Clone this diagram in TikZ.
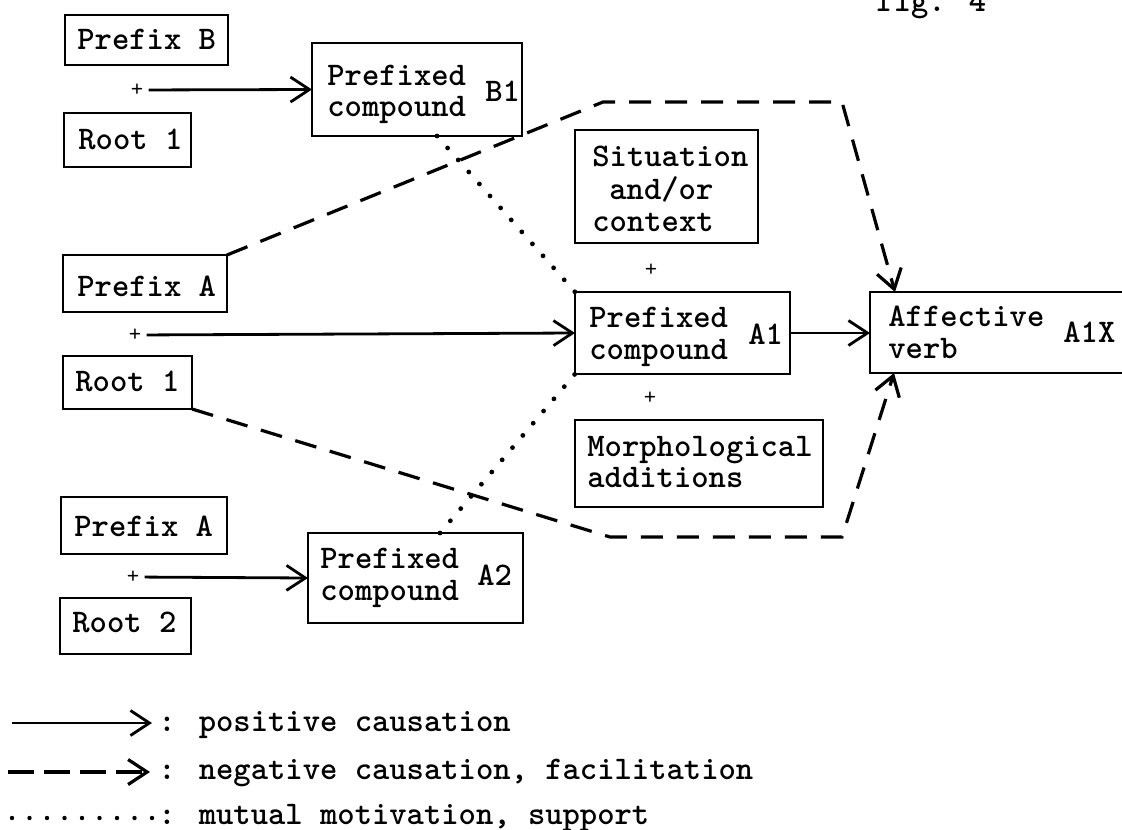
\documentclass[tikz,border=0pt]{standalone}
\usetikzlibrary{arrows.meta}
\begin{document}
\begin{tikzpicture}[x=0.5pt,y=-0.5pt,
  box/.style={draw, line width=1.4pt, inner sep=0pt, outer sep=0pt, anchor=north west},
  txt/.style={anchor=base west, inner sep=0pt, font=\fontsize{16.5}{20}\selectfont\ttfamily\bfseries},
  plus/.style={inner sep=2.5pt, font=\fontsize{12}{12}\selectfont\ttfamily},
  tipstyle/.style={-{Straight Barb[length=9.5pt,width=12.5pt]}},
  posarrow/.style={line width=1.4pt, tipstyle},
  negarrow/.style={line width=1.6pt, dash pattern=on 11pt off 7pt, tipstyle},
  negleg/.style={line width=1.6pt, dash pattern=on 13pt off 5pt, tipstyle},
  dotline/.style={line width=2.4pt, line cap=round, dash pattern=on 0pt off 8pt},
  dotleg/.style={line width=2.2pt, line cap=round, dash pattern=on 0pt off 8.75pt},
]
\useasboundingbox (0,0) rectangle (1122,829);
\clip (0,0) rectangle (1122,829);
\fill[white] (0,0) rectangle (1122,829);

% boxes
\node[box, minimum width=81.5pt, minimum height=25pt]  (PB)  at (65,15)  {};
\node[box, minimum width=63.5pt, minimum height=27pt]  (R1a) at (64,113) {};
\node[box, minimum width=105pt,  minimum height=46.5pt](B1)  at (312,43) {};
\node[box, minimum width=82pt,   minimum height=28.5pt](PA1) at (63,255) {};
\node[box, minimum width=64.5pt, minimum height=26.5pt](R1b) at (63,356) {};
\node[box, minimum width=91.5pt, minimum height=56.5pt](SC)  at (575,130) {};
\node[box, minimum width=107.5pt,minimum height=41pt]  (A1)  at (575,292) {};
\node[box, minimum width=140pt,  minimum height=40.5pt](AV)  at (870,292) {};
\node[box, minimum width=124pt,  minimum height=43.5pt](MA)  at (575,420) {};
\node[box, minimum width=83pt,   minimum height=28.5pt](PA2) at (61,497) {};
\node[box, minimum width=65.5pt, minimum height=28pt]  (R2)  at (60,598) {};
\node[box, minimum width=107.5pt,minimum height=45pt]  (A2)  at (308,533) {};

% texts
\node[txt] (fig) at (876,12) {fig. 4};
\node[txt] (tPB) at (77,50) {Prefix B};
\node[txt] (tR1a) at (78,149) {Root 1};
\node[txt] (tB1a) at (327,86) {Prefixed};
\node[txt] (tB1b) at (327,117) {compound};
\node[txt] (tB1c) at (485,101) {B1};
\node[txt] (tPA1) at (77,296) {Prefix A};
\node[txt] (tR1b) at (75,391) {Root 1};
\node[txt] (tSC1) at (592,166) {Situation};
\node[txt] (tSC2) at (609,199) {and/or};
\node[txt] (tSC3) at (592,231) {context};
\node[txt] (tA1a) at (589,327) {Prefixed};
\node[txt] (tA1b) at (589,359) {compound};
\node[txt] (tA1c) at (748,344) {A1};
\node[txt] (tAVa) at (888,326) {Affective};
\node[txt] (tAVb) at (888,358) {verb};
\node[txt] (tAVc) at (1063,342) {A1X};
\node[txt] (tMA1) at (587,456) {Morphological};
\node[txt] (tMA2) at (587,487) {additions};
\node[txt] (tPA2) at (74,536) {Prefix A};
\node[txt] (tR2) at (72,632) {Root 2};
\node[txt] (tA2a) at (320,568) {Prefixed};
\node[txt] (tA2b) at (320,600) {compound};
\node[txt] (tA2c) at (477,585) {A2};

% plus signs
\node[plus] (p1) at (137,90) {+};
\node[plus] (p2) at (135,335) {+};
\node[plus] (p3) at (133,577) {+};
\node[plus] (p4) at (651,270) {+};
\node[plus] (p5) at (650,398) {+};

% helper coordinates
\coordinate (u1) at (603,102);
\coordinate (u2) at (842,102);
\coordinate (d1) at (610,537);
\coordinate (d2) at (842,537);
\coordinate (AVt) at ([xshift=12.5pt]AV.north west);
\coordinate (AVb) at ([xshift=12pt]AV.south west);
\coordinate (B1d) at ([xshift=62.5pt]B1.south west);
\coordinate (A2d) at ([xshift=66pt]A2.north west);

% connectors
\draw[posarrow] (p1) -- (B1.west);
\draw[posarrow] (p2) -- (A1.west);
\draw[posarrow] (p3) -- (A2.west);
\draw[posarrow] (A1.east) -- (AV.west |- A1.east);
\draw[negarrow] (PA1.north east) -- (u1) -- (u2) -- (AVt);
\draw[negarrow] (R1b.south east) -- (d1) -- (d2) -- (AVb);
\draw[dotline] (B1d) -- (A1.north west);
\draw[dotline] (A2d) -- (A1.south west);

% legend
\coordinate (l1a) at (12,723);  \coordinate (l1b) at (152,723);
\coordinate (l2a) at (8,772);   \coordinate (l2b) at (150,772);
\coordinate (l3a) at (12,818);  \coordinate (l3b) at (152,818);
\draw[posarrow] (l1a) -- (l1b);
\draw[negleg] (l2a) -- (l2b);
\draw[dotleg] (l3a) -- (l3b);
\node[txt] (lg1) at (158,731) {: positive causation};
\node[txt] (lg2) at (158,779) {: negative causation, facilitation};
\node[txt] (lg3) at (158,824) {: mutual motivation, support};
\end{tikzpicture}
\end{document}
